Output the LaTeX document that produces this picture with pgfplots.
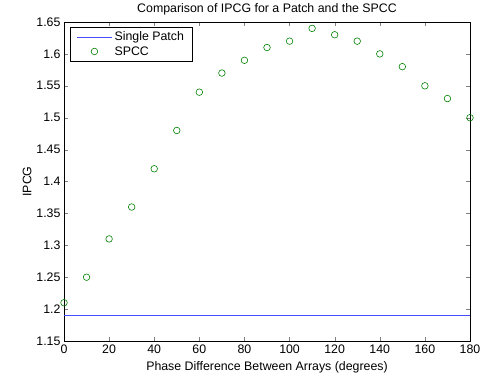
\documentclass[border=0pt]{standalone}
\usepackage{fontspec}
\setmainfont{Liberation Sans}
\usepackage{pgfplots}
\pgfplotsset{compat=1.18}
\definecolor{mgreen}{rgb}{0,0.5,0}
\definecolor{mblue}{rgb}{0.3,0.3,1}
\pgfplotsset{
  longline legend/.style={legend image code/.code={\draw[##1] (0bp,0bp) -- (35bp,0bp);}},
  midmark legend/.style={legend image code/.code={\draw[##1] plot coordinates {(17.5bp,0bp)};\path (0bp,0bp) (35bp,0bp);}},
}
\begin{document}
\begin{tikzpicture}
\begin{axis}[
  at={(0,0)}, anchor=south west,
  scale only axis, width=406bp, height=319bp,
  xmin=0, xmax=180, ymin=1.15, ymax=1.65,
  xtick={0,20,...,180},
  ytick={1.15,1.2,1.25,1.3,1.35,1.4,1.45,1.5,1.55,1.6,1.65},
  yticklabel style={/pgf/number format/fixed,/pgf/number format/precision=2},
  /pgf/number format/assume math mode=true,
  tick align=inside, tick pos=both,
  major tick length=4bp,
  axis line style={line width=0.6pt},
  font=\fontsize{12.4}{13}\selectfont,
  title={Comparison of IPCG for a Patch and the SPCC},
  title style={yshift=-3bp},
  xlabel={Phase Difference Between Arrays (degrees)},
  ylabel={IPCG},
  xlabel style={yshift=-1bp},
  ylabel style={yshift=-2bp},
  clip=false,
  legend style={at={(0.015,0.985)}, anchor=north west, font=\fontsize{12.4}{13}\selectfont, inner xsep=6bp, inner ysep=3bp},
  legend cell align=left,
]
\addplot[color=mblue, draw=mblue, mark=none, line width=1.3bp, longline legend] coordinates {(0,1.19) (180,1.19)};
\addlegendentry{Single Patch}
\addplot[only marks, mark=o, mark size=3.3bp, color=mgreen, mark options={line width=0.6pt}, midmark legend] coordinates {
(0,1.21) (10,1.25) (20,1.31) (30,1.36) (40,1.42) (50,1.48) (60,1.54) (70,1.57) (80,1.59) (90,1.61) (100,1.62) (110,1.64) (120,1.63) (130,1.62) (140,1.60) (150,1.58) (160,1.55) (170,1.53) (180,1.50)};
\addlegendentry{SPCC}
\end{axis}
\useasboundingbox (-64bp,-42bp) rectangle (427bp,341bp);
\end{tikzpicture}
\end{document}
